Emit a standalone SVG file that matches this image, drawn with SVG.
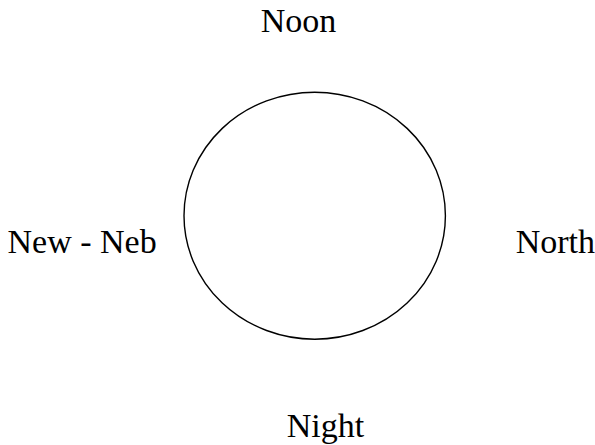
<svg xmlns="http://www.w3.org/2000/svg" width="595" height="445" viewBox="0 0 595 445">
<style>
text{font-family:"Liberation Serif","Times New Roman",serif;font-size:34px;fill:#000}
.c{fill:none;stroke:#000;stroke-width:1.4}
</style>
<rect width="595" height="445" fill="#fff"/>
<g id="circle"><ellipse class="c" cx="314.7" cy="215.7" rx="130.7" ry="123.5"/></g>
<g id="noon"><text x="298.5" y="32" text-anchor="middle">Noon</text></g>
<g id="newneb"><text x="7.5" y="252.7">New - Neb</text></g>
<g id="north"><text x="515.7" y="252.7">North</text></g>
<g id="night"><text x="286.7" y="436.7">Night</text></g>
<g id="connectors"></g>
</svg>
